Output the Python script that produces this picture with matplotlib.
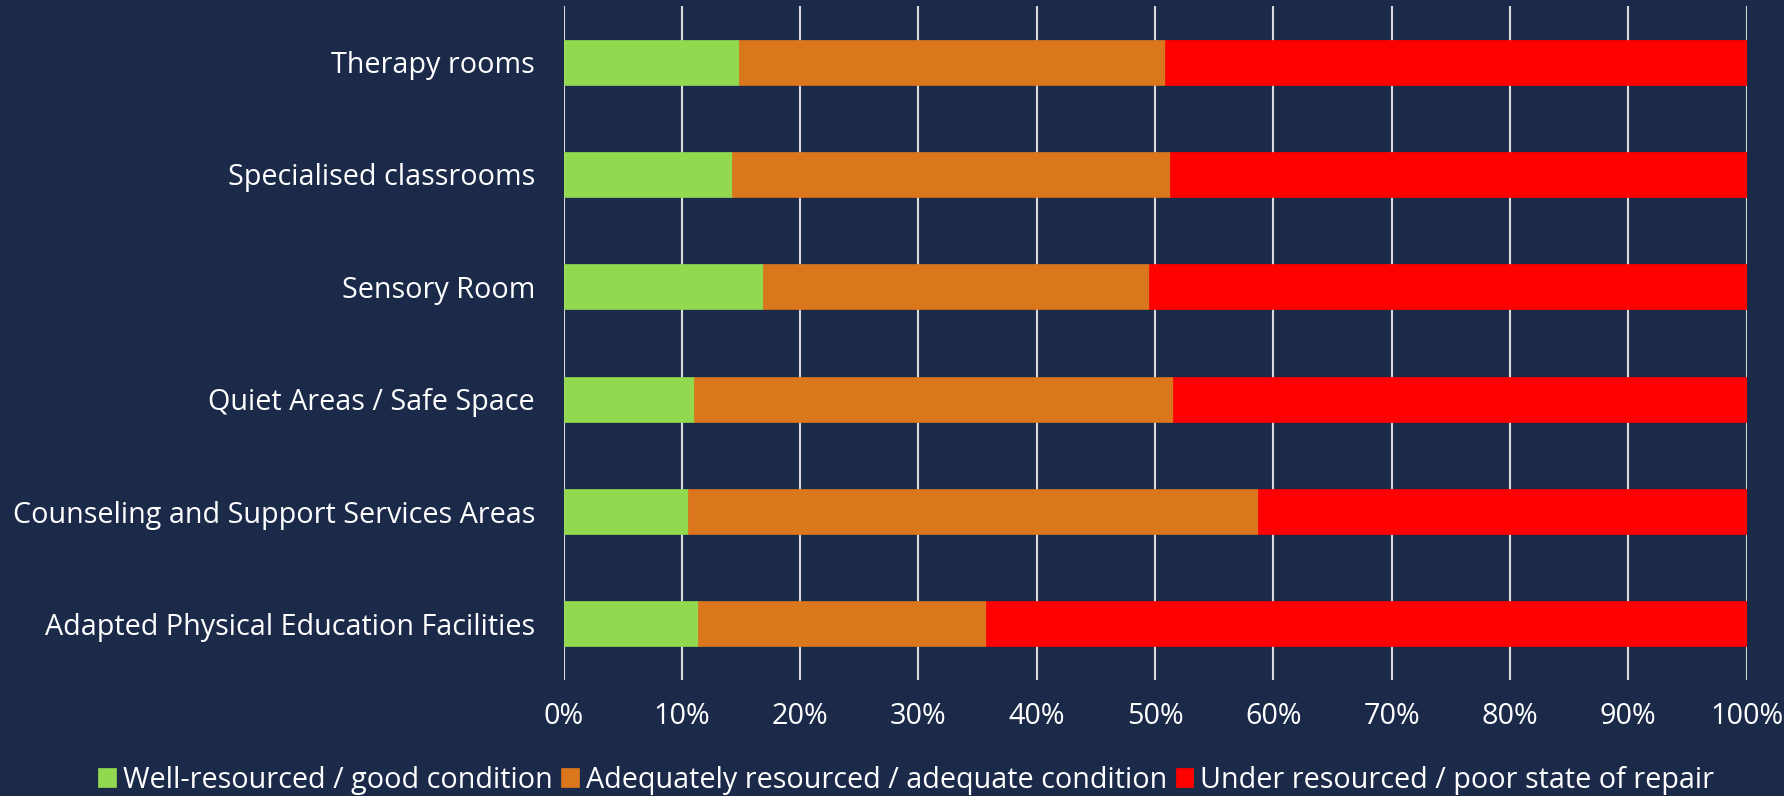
import numpy as np
import matplotlib.pyplot as plt
from matplotlib.ticker import PercentFormatter

# share of responses per facility type (percent)
facilities = [
    "Therapy rooms",
    "Specialised classrooms",
    "Sensory Room",
    "Quiet Areas / Safe Space",
    "Counseling and Support Services Areas",
    "Adapted Physical Education Facilities",
]
well_resourced = [14.8, 14.2, 16.9, 11.0, 10.5, 11.4]
adequate = [36.0, 37.1, 32.6, 40.5, 48.2, 24.3]
under_resourced = [49.2, 48.7, 50.5, 48.5, 41.3, 64.3]

series_names = [
    "Well-resourced / good condition",
    "Adequately resourced / adequate condition",
    "Under resourced / poor state of repair",
]
colors = ["#92D94F", "#DA771C", "#FF0000"]

bg = "#1C2A4A"
fg = "#FFFFFF"
plt.rcParams["font.family"] = ["Open Sans", "DejaVu Sans"]
fs = 20.7

fig = plt.figure(figsize=(17.84, 7.96), dpi=100, facecolor=bg)
ax = fig.add_axes([0.3159, 0.1457, 0.979 - 0.3159, 0.9925 - 0.1457])
ax.set_facecolor(bg)

y = np.arange(len(facilities))
left = np.zeros(len(facilities))
for vals, name, c in zip([well_resourced, adequate, under_resourced], series_names, colors):
    vals = np.array(vals)
    ax.barh(y, vals, left=left, height=0.4, color=c, label=name, zorder=3,
            edgecolor=c, linewidth=0.5)
    left += vals

ax.set_xlim(0, 100)
ax.set_ylim(len(facilities) - 0.5, -0.5)
ax.set_xticks(np.arange(0, 101, 10))
ax.xaxis.set_major_formatter(PercentFormatter(decimals=0))
ax.set_yticks(y)
ax.set_yticklabels(facilities)

ax.grid(axis="x", color="#D9D9D9", linewidth=1.5, zorder=0)
ax.grid(axis="y", visible=False)
for s in ax.spines.values():
    s.set_visible(False)
ax.tick_params(axis="both", length=0, colors=fg, labelsize=fs)
ax.tick_params(axis="y", pad=20.5)
ax.tick_params(axis="x", pad=16)

fig.legend(loc="center", bbox_to_anchor=(0.508, 0.02), ncol=3, frameon=False,
           fontsize=fs, labelcolor=fg, handlelength=0.6, handleheight=0.6,
           handletextpad=0.25, columnspacing=0.3)

fig.savefig("out.png", dpi=100, facecolor=bg)
